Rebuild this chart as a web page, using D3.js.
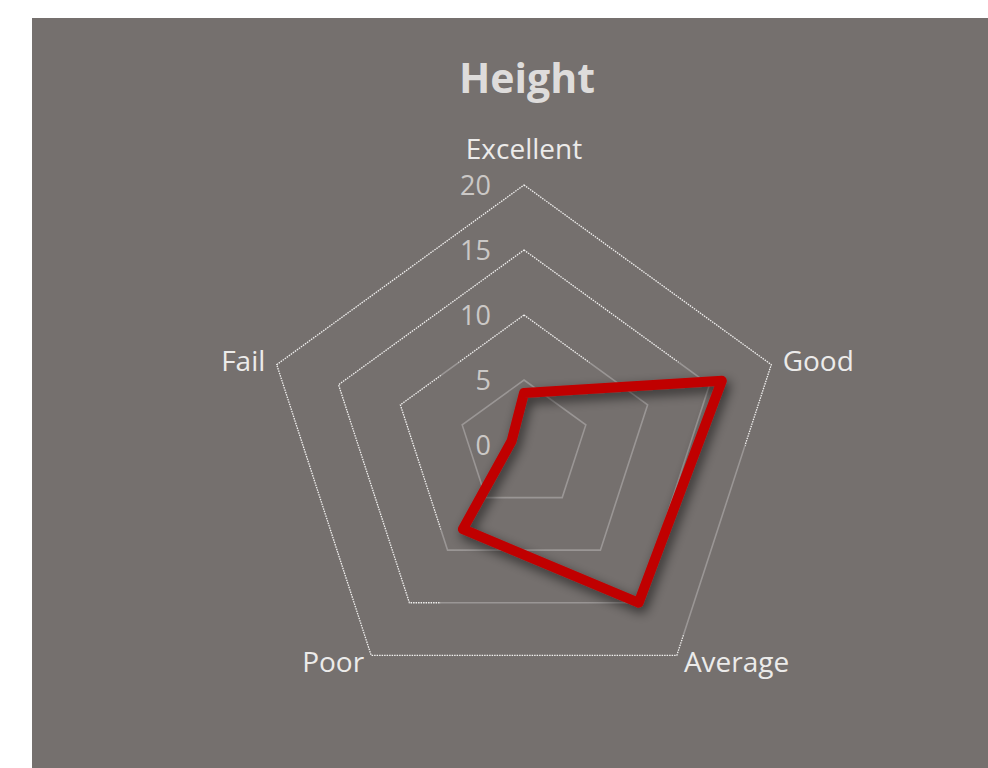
<!DOCTYPE html>
<html>
<head>
<meta charset="utf-8">
<script src="https://cdn.jsdelivr.net/npm/d3@7"></script>
<style>
  body { margin: 0; background: #fff; }
  svg { display: block; font-family: "Open Sans", sans-serif; }
</style>
</head>
<body>
<div id="chart"></div>
<script>
const categories = ["Excellent", "Good", "Average", "Poor", "Fail"];
const values = [4, 16, 15, 8, 1];
const ticks = [0, 5, 10, 15, 20];
const title = "Height";

function drawRadar() {
  const W = 988, H = 768;
  const cx = 524, cy = 445, R = 260;
  const svg = d3.select("#chart").append("svg").attr("width", W).attr("height", H);

  const defs = svg.append("defs");
  defs.append("filter")
    .attr("id", "shadow")
    .attr("x", "-20%").attr("y", "-20%").attr("width", "140%").attr("height", "140%")
    .append("feDropShadow")
    .attr("dx", 3).attr("dy", 5).attr("stdDeviation", 6)
    .attr("flood-color", "#000").attr("flood-opacity", 0.6);

  svg.append("rect").attr("x", 32).attr("y", 18).attr("width", W - 32).attr("height", H - 18).attr("fill", "#75706e");

  svg.append("text")
    .attr("x", 527).attr("y", 93)
    .attr("text-anchor", "middle")
    .style("font-size", "41px").style("font-weight", "bold").style("fill", "#dedcdb")
    .text(title);

  const r = d3.scaleLinear().domain([0, 20]).range([0, R]);
  const angle = i => i * 2 * Math.PI / categories.length;
  const g = svg.append("g").attr("transform", `translate(${cx},${cy})`);
  const ring = d3.lineRadial().angle((d, i) => angle(i)).radius(d => r(d)).curve(d3.curveLinearClosed);
  const point = (v, i) => [r(v) * Math.sin(angle(i)), -r(v) * Math.cos(angle(i))];

  // area where the series shadow makes the grid look solid
  const pts = values.map(point);
  const x0 = d3.min(pts, p => p[0]) - 22, x1 = d3.max(pts, p => p[0]) + 23;
  const y0 = d3.min(pts, p => p[1]) - 18, y1 = d3.max(pts, p => p[1]) + 32;
  defs.append("clipPath").attr("id", "solid-zone")
    .append("rect").attr("x", x0).attr("y", y0).attr("width", x1 - x0).attr("height", y1 - y0);
  defs.append("mask").attr("id", "dotted-zone")
    .call(m => {
      m.append("rect").attr("x", -R * 2).attr("y", -R * 2).attr("width", R * 4).attr("height", R * 4).attr("fill", "#fff");
      m.append("rect").attr("x", x0).attr("y", y0).attr("width", x1 - x0).attr("height", y1 - y0).attr("fill", "#000");
    });

  const rings = ticks.filter(t => t > 0);
  g.append("g").attr("mask", "url(#dotted-zone)")
    .selectAll("path").data(rings).join("path")
    .attr("d", t => ring(categories.map(() => t)))
    .attr("fill", "none").attr("stroke", "#f2f1f0").attr("stroke-width", 1.3).attr("stroke-dasharray", "1.5,1");
  g.append("g").attr("clip-path", "url(#solid-zone)")
    .selectAll("path").data(rings).join("path")
    .attr("d", t => ring(categories.map(() => t)))
    .attr("fill", "none").attr("stroke", "#9a9695").attr("stroke-width", 1.6);

  g.selectAll(".tick").data(ticks).join("text")
    .attr("x", -33).attr("y", t => -r(t))
    .attr("dy", "0.36em")
    .attr("text-anchor", "end")
    .style("font-size", "27px").style("fill", "#cbc8c6")
    .text(t => t);

  g.selectAll(".cat").data(categories).join("text")
    .attr("x", (d, i) => (R + 12) * Math.sin(angle(i)))
    .attr("y", (d, i) => -(R + 12) * Math.cos(angle(i)) + (i === 0 ? -24 : Math.cos(angle(i)) < -0.5 ? -3 : 0))
    .attr("dy", "0.36em")
    .attr("text-anchor", (d, i) => {
      const s = Math.sin(angle(i));
      return Math.abs(s) < 0.01 ? "middle" : s > 0 ? "start" : "end";
    })
    .style("font-size", "28px").style("fill", "#ecebea")
    .text(d => d);

  g.append("path")
    .attr("d", ring(values))
    .attr("fill", "none").attr("stroke", "#c00000").attr("stroke-width", 10)
    .attr("stroke-linejoin", "round")
    .attr("filter", "url(#shadow)");
}

drawRadar();
</script>
</body>
</html>
